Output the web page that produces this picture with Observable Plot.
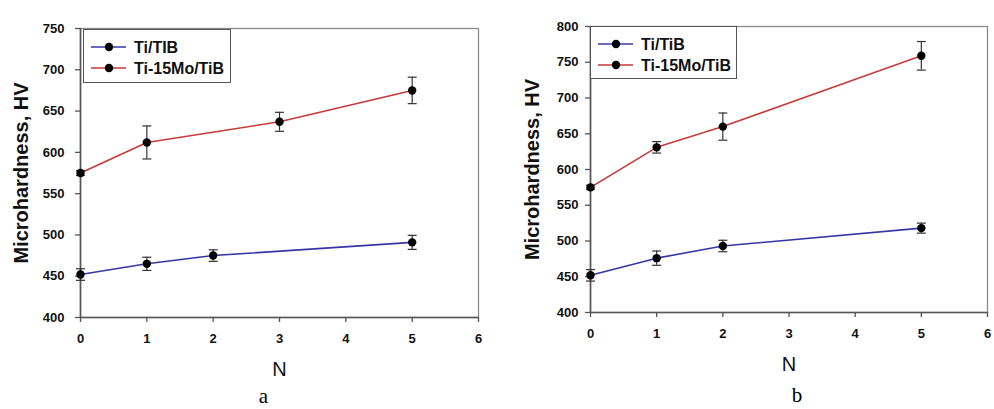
<!DOCTYPE html>
<html><head><meta charset="utf-8">
<script src="https://cdn.jsdelivr.net/npm/d3@7"></script>
<script src="https://cdn.jsdelivr.net/npm/@observablehq/plot@0.6"></script>
<style>
html,body{margin:0;padding:0;background:#fff;}
#wrap{position:relative;width:994px;height:409px;overflow:hidden;font-family:"Liberation Sans",Arial,sans-serif;}
.panel{position:absolute;top:0;}
.legend{position:absolute;border:1px solid #555;background:#fff;box-sizing:border-box;}
</style></head><body><div id="wrap"></div>
<script>
// ---- data ----
const xTicks = [0, 1, 2, 3, 4, 5, 6];
const yTicksA = [400, 450, 500, 550, 600, 650, 700, 750];
const yTicksB = [400, 450, 500, 550, 600, 650, 700, 750, 800];

const seriesNames = ["Ti/TIB", "Ti-15Mo/TiB"];
const seriesNamesB = ["Ti/TiB", "Ti-15Mo/TiB"];
const seriesColors = ["#3636a6", "#c63a3a"];

// panel a
const aN1 = [0, 1, 2, 5];
const aV1 = [452, 465, 475, 491];
const aE1 = [7, 8, 7, 8.5];
const aN2 = [0, 1, 3, 5];
const aV2 = [575, 612, 637, 675];
const aE2 = [3, 20, 11.5, 16];

// panel b
const bN1 = [0, 1, 2, 5];
const bV1 = [452, 476, 493, 518];
const bE1 = [8, 10, 8, 7];
const bN2 = [0, 1, 2, 5];
const bV2 = [575, 631, 660, 759];
const bE2 = [3, 8, 19, 20];

const toRows = (ns, vs, es, s) => ns.map((n, i) => ({n, v: vs[i], e: es[i], s}));

const capSymbol = {draw(ctx) { ctx.moveTo(-4.5, 0); ctx.lineTo(4.5, 0); }};

function panel({rows, yDomain, yTicks, width, ml, mr, mt, mb, yPad, titleDx, letter, letterDx, letterDy}) {
  const series = [0, 1].map(i => rows.filter(r => r.s === i));
  return Plot.plot({
    width, height: 409,
    marginLeft: ml, marginRight: mr, marginTop: mt, marginBottom: mb,
    style: {fontFamily: "'Liberation Sans', Arial, sans-serif", background: "#fff", overflow: "visible"},
    x: {domain: [0, 6]},
    y: {domain: yDomain},
    marks: [
      Plot.frame({stroke: "#8a8a8a", strokeWidth: 1.3}),
      Plot.axisY({ticks: yTicks, tickFormat: d3.format("d"), tickSize: 5, tickPadding: yPad, label: null, fontSize: 13, fontWeight: "bold", fill: "#111", stroke: "#555", strokeWidth: 1.3}),
      Plot.axisX({ticks: xTicks, tickFormat: d3.format("d"), tickSize: 5, tickPadding: 11, label: null, fontSize: 13, fontWeight: "bold", fill: "#111", stroke: "#555", strokeWidth: 1.3}),
      Plot.ruleX([0], {stroke: "#555", strokeWidth: 1.6}),
      Plot.ruleY([yDomain[0]], {stroke: "#555", strokeWidth: 1.6}),
      ...series.map((d, i) => Plot.line(d, {x: "n", y: "v", stroke: seriesColors[i], strokeWidth: 1.6})),
      Plot.ruleX(rows, {x: "n", y1: d => d.v - d.e, y2: d => d.v + d.e, stroke: "#333", strokeWidth: 1.2}),
      Plot.dot(rows, {x: "n", y: d => d.v + d.e, symbol: capSymbol, stroke: "#333", strokeWidth: 1.2, fill: "none"}),
      Plot.dot(rows, {x: "n", y: d => d.v - d.e, symbol: capSymbol, stroke: "#333", strokeWidth: 1.2, fill: "none"}),
      Plot.dot(rows, {x: "n", y: "v", r: 4.2, fill: "#000", stroke: "none"}),
      Plot.text(["Microhardness, HV"], {frameAnchor: "left", rotate: -90, dx: titleDx, textAnchor: "middle", lineAnchor: "middle", fontSize: 20, fontWeight: "bold", fill: "#111"}),
      Plot.text(["N"], {frameAnchor: "bottom", dy: 52.5, lineAnchor: "middle", textAnchor: "middle", fontSize: 20, fill: "#111"}),
      Plot.text([letter], {frameAnchor: "bottom", dy: letterDy, dx: letterDx, lineAnchor: "middle", textAnchor: "middle", fontSize: 21, fill: "#000", fontFamily: "'Liberation Serif', 'Times New Roman', serif"})
    ]
  });
}

function legend(names, left, top, w, h) {
  const div = document.createElement("div");
  div.className = "legend";
  Object.assign(div.style, {left: left + "px", top: top + "px", width: w + "px", height: h + "px"});
  const ys = [17, 38];
  let s = `<svg width="${w - 2}" height="${h - 2}" style="display:block">`;
  names.forEach((nm, i) => {
    s += `<line x1="7" x2="42" y1="${ys[i]}" y2="${ys[i]}" stroke="${seriesColors[i]}" stroke-width="1.6"/>`;
    s += `<circle cx="25" cy="${ys[i]}" r="4.2" fill="#000"/>`;
    s += `<text x="50" y="${ys[i]}" dominant-baseline="central" font-size="16" font-weight="bold" fill="#111" font-family="'Liberation Sans', Arial, sans-serif">${nm}</text>`;
  });
  s += `</svg>`;
  div.innerHTML = s;
  return div;
}

const wrap = document.getElementById("wrap");

const rowsA = [...toRows(aN1, aV1, aE1, 0), ...toRows(aN2, aV2, aE2, 1)];
const rowsB = [...toRows(bN1, bV1, bE1, 0), ...toRows(bN2, bV2, bE2, 1)];

const pa = panel({rows: rowsA, yDomain: [400, 750], yTicks: yTicksA, width: 500, ml: 80, mr: 22, mt: 28, mb: 92, yPad: 11, titleDx: -59, letter: "a", letterDx: -16, letterDy: 79});
pa.classList.add("panel"); pa.style.left = "0px";
wrap.appendChild(pa);

const pb = panel({rows: rowsB, yDomain: [400, 800], yTicks: yTicksB, width: 494, ml: 90, mr: 7, mt: 26, mb: 97, yPad: 7, titleDx: -58, letter: "b", letterDx: 8, letterDy: 83});
pb.classList.add("panel"); pb.style.left = "500px";
wrap.appendChild(pb);

wrap.appendChild(legend(seriesNames, 83, 29, 148, 54));
wrap.appendChild(legend(seriesNamesB, 590, 26, 147, 53));
</script>
</body></html>
